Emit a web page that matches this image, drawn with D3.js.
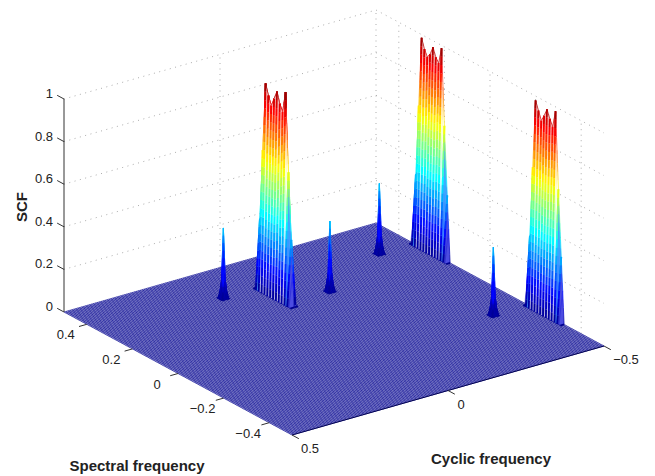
<!DOCTYPE html>
<html>
<head>
<meta charset="utf-8">
<script src="https://d3js.org/d3.v7.min.js"></script>
<style>
    body { margin: 0; background: #fff; }
    text { font-family: "Liberation Sans", Arial, sans-serif; fill: #222; }
</style>
</head>
<body>
<div id="chart"></div>
<script>
var floorCells = 160;
var plateauCells = 80;

var zTicks = [0, 0.2, 0.4, 0.6, 0.8, 1];
var zTickLabels = ["0", "0.2", "0.4", "0.6", "0.8", "1"];
var spectralTicks = [0.4, 0.2, 0, -0.2, -0.4];
var spectralTickLabels = ["0.4", "0.2", "0", "\u22120.2", "\u22120.4"];
var cyclicTicks = [0.5, 0, -0.5];
var cyclicTickLabels = ["0.5", "0", "\u22120.5"];

var plateauCyclic = [0, -0.5, -0.5];
var plateauSpectralStart = [0.325, 0.325, -0.175];
var plateauA = [0.33, 0.66, 0.98, 0.93, 0.89, 0.93, 0.97, 0.92, 0.89, 0.99, 0.62, 0.31];
var plateauB = [0.33, 0.66, 0.985, 0.94, 0.91, 0.93, 0.97, 0.93, 0.91, 0.987, 0.63, 0.31];
var plateauC = [0.33, 0.66, 0.98, 0.94, 0.9, 0.93, 0.967, 0.93, 0.9, 0.98, 0.62, 0.31];
var plateaus = [plateauA, plateauB, plateauC];

// the four narrow spikes, and the shape of one spike on the fine grid
var spikeCyclic = [0.1125, -0.1375, -0.3875, -0.3875];
var spikeSpectral = [0.33125, 0.20625, 0.33125, -0.16875];
var spikeHeight = [0.33, 0.33, 0.33, 0.32];
var spikeShape = [
    [0, 0, 0, 0, 0],
    [0, 0.1, 0.25, 0.1, 0],
    [0, 0.25, 1, 0.25, 0],
    [0, 0.1, 0.25, 0.1, 0],
    [0, 0, 0, 0, 0]
];

var width = 655, height = 476;
var floorOrigin = {x: 292, y: 435};

var cycX = d3.scaleLinear().domain([0.5, -0.5]).range([0, 312]);
var cycY = d3.scaleLinear().domain([0.5, -0.5]).range([0, -89]);
var specX = d3.scaleLinear().domain([-0.5, 0.5]).range([0, -228]);
var specY = d3.scaleLinear().domain([-0.5, 0.5]).range([0, -123]);
var zY = d3.scaleLinear().domain([0, 1]).range([0, -213]);

var jet = d3.scaleLinear()
    .domain([0, 0.125, 0.375, 0.625, 0.875, 1])
    .range(["#00008f", "#0000ff", "#00ffff", "#ffff00", "#ff0000", "#800000"]);

function project(c, s, z) {
    return [
        floorOrigin.x + cycX(c) + specX(s),
        floorOrigin.y + cycY(c) + specY(s) + zY(z)
    ];
}

function gridScale(n) {
    return d3.scaleLinear().domain([0, n]).range([-0.5, 0.5]);
}

var svg = d3.select("#chart").append("svg")
    .attr("width", width)
    .attr("height", height);

var line = d3.line();

// walls: dotted grid
var gridG = svg.append("g")
    .attr("fill", "none")
    .attr("stroke", "#8a8a8a")
    .attr("stroke-width", 0.7)
    .attr("stroke-dasharray", "1 4.5");

zTicks.slice(1).forEach(function(z) {
    gridG.append("path").attr("d", line([project(0.5, 0.5, z), project(-0.5, 0.5, z), project(-0.5, -0.5, z)]));
});
[0, -0.5].forEach(function(c) {
    gridG.append("path").attr("d", line([project(c, 0.5, 0), project(c, 0.5, 1)]));
});
spectralTicks.forEach(function(s) {
    gridG.append("path").attr("d", line([project(-0.5, s, 0), project(-0.5, s, 1)]));
});

// floor of the mesh
var floorG = svg.append("g");
floorG.append("path")
    .attr("d", line([project(0.5, -0.5, 0), project(-0.5, -0.5, 0), project(-0.5, 0.5, 0), project(0.5, 0.5, 0)]) + "Z")
    .attr("fill", "#fff");

var floorLines = floorG.append("g")
    .attr("fill", "none")
    .attr("stroke", jet(0))
    .attr("stroke-width", 0.6);

var floorScale = gridScale(floorCells);
d3.range(floorCells + 1).forEach(function(k) {
    floorLines.append("path").attr("d", line([project(floorScale(k), -0.5, 0), project(floorScale(k), 0.5, 0)]));
    floorLines.append("path").attr("d", line([project(-0.5, floorScale(k), 0), project(0.5, floorScale(k), 0)]));
});

// turn a sparse height table into raised cells
function buildCells(table, n, kind) {
    var scale = gridScale(n);
    var cells = [];
    function getZ(i, j) { return table[i + "_" + j] || 0; }
    var seen = {};
    Object.keys(table).forEach(function(key) {
        var parts = key.split("_").map(Number);
        [[0, 0], [-1, 0], [0, -1], [-1, -1]].forEach(function(o) {
            var i = parts[0] + o[0], j = parts[1] + o[1];
            if (i < 0 || j < 0 || i >= n || j >= n || seen[i + "_" + j]) return;
            seen[i + "_" + j] = true;
            var corners = [[i, j], [i + 1, j], [i + 1, j + 1], [i, j + 1]].map(function(ij) {
                var z = getZ(ij[0], ij[1]);
                return {z: z, p: project(scale(ij[0]), scale(ij[1]), z)};
            });
            if (d3.max(corners, function(d) { return d.z; }) > 0) {
                cells.push({depth: scale(i) - scale(j), corners: corners, kind: kind});
            }
        });
    });
    return cells;
}

var plateauTable = {};
var plateauScale = gridScale(plateauCells);
plateaus.forEach(function(rows, p) {
    var i = Math.round(plateauScale.invert(plateauCyclic[p]));
    var j0 = Math.round(plateauScale.invert(plateauSpectralStart[p]));
    rows.forEach(function(z, k) { plateauTable[i + "_" + (j0 - k)] = z; });
});

var spikeTable = {};
spikeCyclic.forEach(function(c, k) {
    var i0 = Math.round(floorScale.invert(c));
    var j0 = Math.round(floorScale.invert(spikeSpectral[k]));
    spikeShape.forEach(function(row, a) {
        row.forEach(function(w, b) {
            if (w > 0) spikeTable[(i0 + a - 2) + "_" + (j0 + b - 2)] = w * spikeHeight[k];
        });
    });
});

var cells = buildCells(plateauTable, plateauCells, "plateau").concat(buildCells(spikeTable, floorCells, "spike"));
cells.sort(function(a, b) { return a.depth - b.depth; });

var levelStep = 0.04;

function edgeSegments(a, b) {
    var top = Math.max(a.z, b.z), bottom = Math.min(a.z, b.z);
    var n = Math.max(1, Math.ceil((top - bottom) / levelStep));
    return d3.range(n).map(function(k) {
        var t0 = k / n, t1 = (k + 1) / n;
        var z0 = a.z + (b.z - a.z) * t0, z1 = a.z + (b.z - a.z) * t1;
        return {
            d: line([
                [a.p[0] + (b.p[0] - a.p[0]) * t0, a.p[1] + (b.p[1] - a.p[1]) * t0],
                [a.p[0] + (b.p[0] - a.p[0]) * t1, a.p[1] + (b.p[1] - a.p[1]) * t1]
            ]),
            color: jet((z0 + z1) / 2)
        };
    });
}

function midpoint(a, b) {
    return {z: (a.z + b.z) / 2, p: [(a.p[0] + b.p[0]) / 2, (a.p[1] + b.p[1]) / 2]};
}

function drawSegs(g, segs, strokeWidth, opacity) {
    g.selectAll(null).data(segs)
        .enter()
        .append("path")
        .attr("d", function(d) { return d.d; })
        .attr("stroke", function(d) { return d.color; })
        .attr("stroke-width", strokeWidth)
        .attr("stroke-opacity", opacity)
        .attr("fill", "none");
}

var surfaceG = svg.append("g");
cells.forEach(function(cell) {
    var cs = cell.corners;
    var cellG = surfaceG.append("g");
    var isSpike = cell.kind === "spike";
    var meanZ = d3.mean(cs, function(d) { return d.z; });
    var maxZ = d3.max(cs, function(d) { return d.z; });
    var outline = line(cs.map(function(d) { return d.p; })) + "Z";

    cellG.append("path")
        .attr("d", outline)
        .attr("fill", isSpike ? jet(meanZ) : "#fff");

    if (isSpike) {
        cs.forEach(function(corner, k) {
            drawSegs(cellG, edgeSegments(corner, cs[(k + 1) % 4]), 0.8, 1);
        });
        return;
    }

    // the low cells on the flanks of a plateau are nearly closed in the original
    if (maxZ < 0.7) {
        cellG.append("path")
            .attr("d", outline)
            .attr("fill", jet(meanZ))
            .attr("fill-opacity", 0.7);
    }

    // pale fill between the ribs of a plateau
    drawSegs(cellG, edgeSegments(midpoint(cs[0], cs[3]), midpoint(cs[1], cs[2])), 1.3, 0.3);
    // ribs run across the ridge, the ridge and foot lines run along it
    drawSegs(cellG, edgeSegments(cs[0], cs[1]), 1.8, 1);
    drawSegs(cellG, edgeSegments(cs[2], cs[3]), 1.8, 1);
    drawSegs(cellG, edgeSegments(cs[1], cs[2]), 0.7, 1);
    drawSegs(cellG, edgeSegments(cs[3], cs[0]), 0.7, 1);
});

// axes
var axisG = svg.append("g")
    .attr("fill", "none")
    .attr("stroke", "#333")
    .attr("stroke-width", 1);

axisG.append("path").attr("d", line([project(0.5, 0.5, 0), project(0.5, 0.5, 1)]));
axisG.append("path")
    .attr("d", line([project(0.5, -0.5, 0), project(-0.5, -0.5, 0)]))
    .attr("stroke", "#000050");

zTicks.forEach(function(z) {
    axisG.append("path").attr("d", line([project(0.5, 0.5, z), project(0.5, 0.53, z)]));
});
spectralTicks.forEach(function(s) {
    axisG.append("path").attr("d", line([project(0.5, s, 0), project(0.525, s, 0)]));
});
cyclicTicks.forEach(function(c) {
    axisG.append("path").attr("d", line([project(c, -0.5, 0), project(c, -0.53, 0)]));
});

var labelG = svg.append("g").attr("font-size", 13);

labelG.selectAll("text.z").data(zTicks)
    .enter()
    .append("text")
    .attr("class", "z")
    .attr("x", 53)
    .attr("y", function(d) { return project(0.5, 0.5, d)[1] - 1; })
    .attr("text-anchor", "end")
    .text(function(d, i) { return zTickLabels[i]; });

labelG.selectAll("text.spec").data(spectralTicks)
    .enter()
    .append("text")
    .attr("class", "spec")
    .attr("x", function(d) { return project(0.5, d, 0)[0] - 21; })
    .attr("y", function(d) { return project(0.5, d, 0)[1] + 15; })
    .attr("text-anchor", "middle")
    .text(function(d, i) { return spectralTickLabels[i]; });

// the cyclic labels do not sit at one fixed offset in the original
function cyclicLabelX(d) {
    var base = project(d, -0.5, 0)[0];
    if (d === 0) return base + 13;
    return base + (d < 0 ? 22 : 18);
}

labelG.selectAll("text.cyc").data(cyclicTicks)
    .enter()
    .append("text")
    .attr("class", "cyc")
    .attr("x", cyclicLabelX)
    .attr("y", function(d) { return project(d, -0.5, 0)[1] + 18; })
    .attr("text-anchor", "middle")
    .text(function(d, i) { return cyclicTickLabels[i]; });

var titleG = svg.append("g").attr("font-size", 15).attr("font-weight", "bold");
titleG.append("text").attr("x", 137).attr("y", 471).attr("text-anchor", "middle").text("Spectral frequency");
titleG.append("text").attr("x", 491).attr("y", 464).attr("text-anchor", "middle").text("Cyclic frequency");
titleG.append("text")
    .attr("transform", "translate(27,207) rotate(-90)")
    .attr("text-anchor", "middle")
    .text("SCF");
</script>
</body>
</html>
